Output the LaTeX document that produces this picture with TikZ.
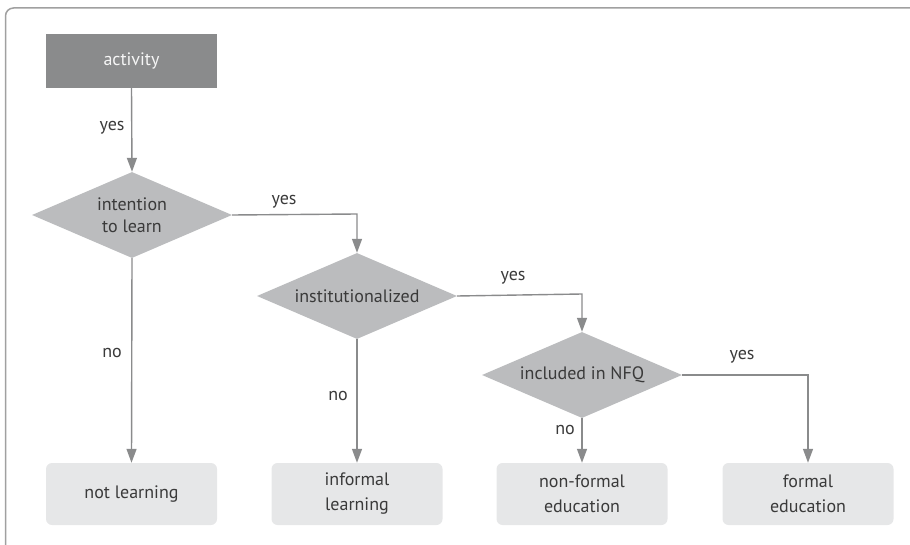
\documentclass[tikz,border=0pt]{standalone}
\usepackage{fontspec}
\setmainfont{PT Sans}
\usetikzlibrary{shapes.geometric,arrows.meta}
\definecolor{dark}{HTML}{8A8B8C}
\definecolor{mid}{HTML}{BBBCBE}
\definecolor{light}{HTML}{E6E7E8}
\definecolor{txt}{HTML}{3A3A3A}
\definecolor{framec}{HTML}{A0A0A0}
\tikzset{
  startbox/.style={fill=dark, text=white!92!dark, minimum width=171pt, minimum height=54pt, inner sep=0pt, font=\fontsize{18}{22}\selectfont},
  decision/.style={diamond, fill=mid, text=txt, minimum width=200pt, minimum height=86pt, aspect=2.33, inner sep=0pt, font=\fontsize{18}{22}\selectfont, align=center},
  endbox/.style={fill=light, rounded corners=6pt, text=txt, minimum width=171pt, minimum height=62pt, inner sep=0pt, font=\fontsize{18}{25}\selectfont, align=center},
  conn/.style={draw=dark, line width=1.4pt, -{Triangle[length=14pt,width=10pt]}},
  lbl/.style={text=txt, font=\fontsize{18}{22}\selectfont, inner sep=0pt},
}
\begin{document}
\begin{tikzpicture}[x=1pt,y=-1pt]
\useasboundingbox (0,0) rectangle (910,545);
\draw[framec, line width=1.5pt] (5.5,545) -- (5.5,16) arc[start angle=180,end angle=270,radius=8] -- (910,8);
\node[startbox] (act) at (131.5,61) {activity};
\node[decision] (d1) at (132,215) {intention\\to learn};
\node[decision] (d2) at (357,296) {institutionalized};
\node[decision] (d3) at (582,375) {included in NFQ};
\node[endbox] (e1) at (131.5,494) {not learning};
\node[endbox] (e2) at (357,494) {informal\\learning};
\node[endbox] (e3) at (582,494) {non-formal\\education};
\node[endbox] (e4) at (808,494) {formal\\education};
\coordinate (c1) at (357,214);
\coordinate (c2) at (582,294);
\coordinate (c3) at (808,375);
\draw[conn] (act.south) -- (d1.north);
\draw[conn] (d1.east) -- (c1) -- (d2.north);
\draw[conn] (d2.east) -- (c2) -- (d3.north);
\draw[conn] (d3.east) -- (c3) -- (e4.north);
\draw[conn] (d1.south) -- (e1.north);
\draw[conn] (d2.south) -- (e2.north);
\draw[conn] (d3.south) -- (e3.north);
\node[lbl] (y0) at (112,128) {yes};
\node[lbl] (y1) at (284,202) {yes};
\node[lbl] (y2) at (513,278) {yes};
\node[lbl] (y3) at (742,357) {yes};
\node[lbl] (n1) at (112,353) {no};
\node[lbl] (n2) at (338,396) {no};
\node[lbl] (n3) at (565,430) {no};
\end{tikzpicture}
\end{document}
